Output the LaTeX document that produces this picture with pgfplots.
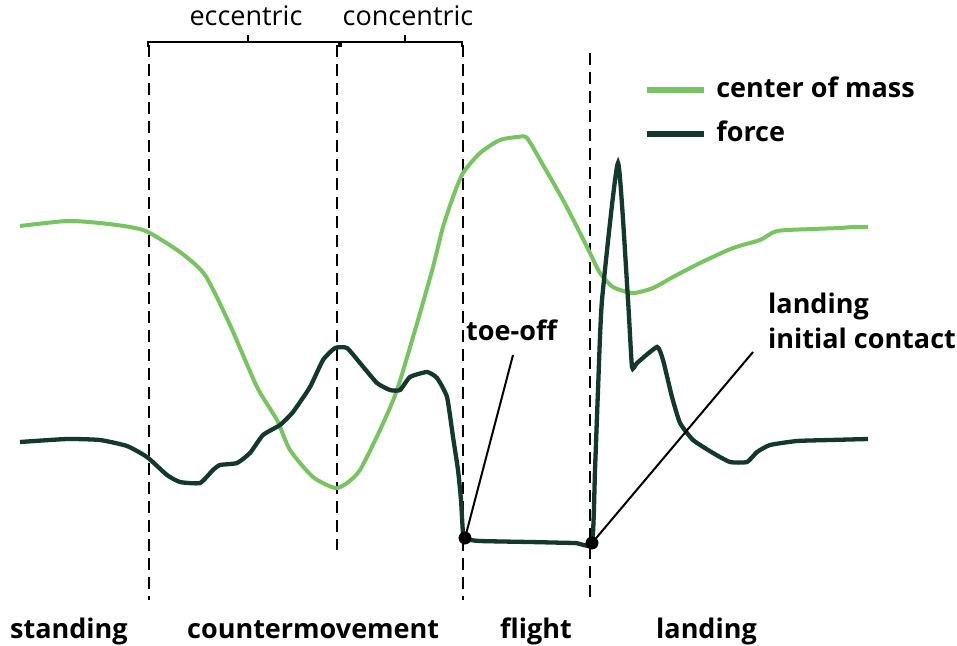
\documentclass[border=0pt]{standalone}
\usepackage{pgfplots}
\pgfplotsset{compat=1.18}
\usepackage{fontspec}
\setmainfont{Open Sans}
\definecolor{com}{HTML}{78C460}
\definecolor{frc}{HTML}{13382D}
\newcommand{\bigbf}{\fontsize{27}{31}\selectfont\bfseries}
\begin{document}
\begin{tikzpicture}
\begin{axis}[
  width=957pt, height=645pt, scale only axis,
  xmin=0, xmax=957, ymin=0, ymax=645, y dir=reverse,
  axis lines=none, clip=false,
  legend cell align=left,
  legend image code/.code={\draw[#1,line width=6pt] (0pt,0pt) -- (57pt,0pt); \path (64pt,0pt);},
  legend style={at={(axis cs:644,74)}, anchor=north west, draw=none, fill=none,
    font=\bigbf, row sep=12pt, column sep=0pt,
    inner sep=0pt, nodes={text height=20pt, text depth=6pt, inner sep=3pt}},
]
\addplot[draw=none, forget plot] coordinates {(0,0) (957,645)};
% dashed phase lines
\addplot[black, line width=2.6pt, dash pattern=on 12pt off 7pt, forget plot] coordinates {(149,45) (149,600)};
\addplot[black, line width=2.6pt, dash pattern=on 12pt off 7pt, forget plot] coordinates {(337,45) (337,550)};
\addplot[black, line width=2.6pt, dash pattern=on 12pt off 7pt, forget plot] coordinates {(463,45) (463,600)};
\addplot[black, line width=2.6pt, dash pattern=on 12pt off 7pt, forget plot] coordinates {(590,53) (590,600)};
% brackets
\addplot[black, line width=2.2pt, forget plot] coordinates {(148,47) (148,42) (339,42) (339,47)};
\addplot[black, line width=2.2pt, forget plot] coordinates {(248,42) (248,35)};
\addplot[black, line width=2.2pt, forget plot] coordinates {(341,47) (341,42) (462,42) (462,47)};
\addplot[black, line width=2.2pt, forget plot] coordinates {(405,42) (405,35)};
% center of mass
\addplot[com, line width=4pt, smooth, tension=0.4] coordinates {
(20,226) (67,221) (100,223) (130,227) (148,232) (180,252) (205,275) (230,325)
(257,387) (277,420) (290,450) (313,477) (335,488) (347,483) (360,470) (380,430)
(397,390) (418,320) (433,267) (443,227) (453,197) (463,173) (480,153) (500,140)
(518,137) (527,138) (543,165) (563,200) (580,233) (590,253) (600,273) (613,287)
(633,293) (653,288) (673,277) (700,263) (733,248) (760,240) (777,231) (813,229)
(840,228) (853,227) (868,227)};
\addlegendentry{center of mass}
% force
\addplot[frc, line width=4.3pt, smooth, tension=0.3] coordinates {
(20,442) (67,439) (100,440) (127,446) (147,457) (167,475) (180,482) (200,483)
(213,470) (220,465) (237,463) (250,453) (263,435) (280,425) (293,412) (310,387)
(323,360) (335,348) (347,348) (360,363) (377,383) (390,390) (400,390) (410,377)
(427,372) (437,378) (447,397) (453,437) (458,470) (461,500) (463,533) (466,539)
(480,541) (530,542) (575,543) (592,543) (595,470) (598,390) (602,300) (618,163) (628,300)
(632,367) (637,363) (657,347) (663,360) (672,397) (680,423) (693,440) (713,453)
(730,462) (747,462) (757,452) (770,445) (797,441) (830,440) (868,439)};
\addlegendentry{force}
% annotation lines and dots
\addplot[black, line width=2pt, forget plot] coordinates {(465,538) (513,355)};
\addplot[black, line width=2pt, forget plot] coordinates {(592,543) (753,352)};
\addplot[only marks, mark=*, mark size=6.2pt, black, forget plot] coordinates {(465,538) (592,543)};
% texts
\node[font=\fontsize{27}{31}\selectfont, anchor=base] at (axis cs:246,25) {eccentric};
\node[font=\fontsize{27}{31}\selectfont, anchor=base] at (axis cs:408,25) {concentric};
\node[font=\bigbf, anchor=base west, inner sep=0pt] at (axis cs:466,340) {toe-off};
\node[font=\bigbf, anchor=base west, inner sep=0pt] at (axis cs:768,313) {landing};
\node[font=\bigbf, anchor=base west, inner sep=0pt] at (axis cs:768,348) {initial contact};
\node[font=\bigbf, anchor=base west, inner sep=0pt] at (axis cs:10,638) {standing};
\node[font=\bigbf, anchor=base west, inner sep=0pt] at (axis cs:187,638) {countermovement};
\node[font=\bigbf, anchor=base west, inner sep=0pt] at (axis cs:500,638) {flight};
\node[font=\bigbf, anchor=base west, inner sep=0pt] at (axis cs:656,638) {landing};
\end{axis}
\end{tikzpicture}
\end{document}
